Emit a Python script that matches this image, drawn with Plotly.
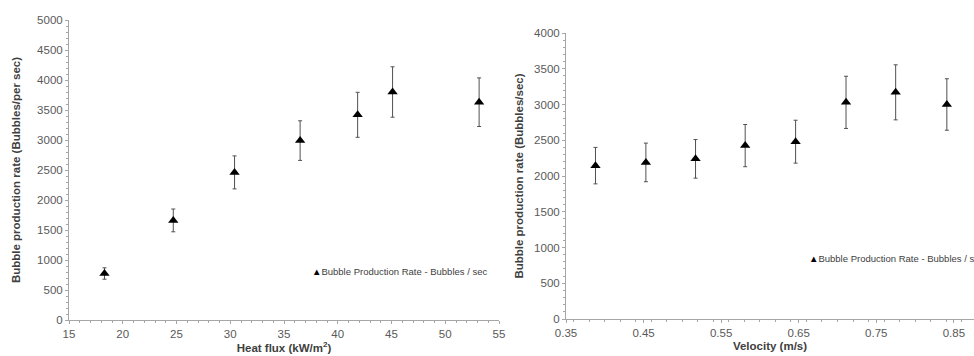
import plotly.graph_objects as go

# Left chart: bubble production rate vs heat flux
heat_flux = [18.3, 24.7, 30.4, 36.5, 41.85, 45.1, 53.15]
rate_hf = [775, 1660, 2460, 2990, 3420, 3800, 3630]
err_hf = [95, 190, 275, 330, 375, 420, 405]

# Right chart: bubble production rate vs velocity
velocity = [0.388, 0.453, 0.517, 0.581, 0.646, 0.711, 0.775, 0.841]
rate_v = [2145, 2190, 2240, 2425, 2480, 3030, 3170, 3000]
err_v = [255, 270, 270, 295, 300, 365, 385, 360]

legend_hf = "Bubble Production Rate - Bubbles / sec"
legend_v = "Bubble Production Rate - Bubbles / s"

FONT = "Liberation Sans, Arial, sans-serif"
TICKC = "#595959"
TITLEC = "#404040"
AXC = "#a6a6a6"
ERRC = "#505050"

fig = go.Figure()
fig.add_trace(go.Scatter(
    x=heat_flux, y=rate_hf, mode="markers", name=legend_hf,
    marker=dict(symbol="triangle-up", size=9, color="black"),
    error_y=dict(type="data", array=err_hf, visible=True, color=ERRC, thickness=1, width=2),
    xaxis="x", yaxis="y", showlegend=False))
fig.add_trace(go.Scatter(
    x=velocity, y=rate_v, mode="markers", name=legend_v,
    marker=dict(symbol="triangle-up", size=9, color="black"),
    error_y=dict(type="data", array=err_v, visible=True, color=ERRC, thickness=1, width=2),
    xaxis="x2", yaxis="y2", showlegend=False))

axis_common = dict(
    showgrid=False, zeroline=False, showline=True, linecolor=AXC, linewidth=1,
    ticks="outside", ticklen=3, tickcolor=AXC, tickwidth=1, automargin=False,
    tickfont=dict(family=FONT, size=11.5, color=TICKC),
    title_font=dict(family=FONT, size=11.5, color=TITLEC),
)

fig.update_layout(
    template="none",
    width=974, height=356,
    margin=dict(l=0, r=0, t=0, b=0, pad=0),
    paper_bgcolor="white", plot_bgcolor="white",
    font=dict(family=FONT, color=TICKC),
    xaxis=dict(domain=[69/974, 499/974], range=[15, 55], dtick=5, anchor="y",
               minor=dict(dtick=1, ticks="outside", ticklen=2, tickcolor=AXC),
               title=dict(text="<b>Heat flux (kW/m<sup>2</sup>)</b>", standoff=4),
               **axis_common),
    yaxis=dict(domain=[36/356, 336/356], range=[0, 5000], dtick=500, anchor="x",
               minor=dict(dtick=100, ticks="outside", ticklen=2, tickcolor=AXC),
               title=dict(text="<b>Bubble production rate (Bubbles/per sec)</b>", standoff=14),
               **axis_common),
    xaxis2=dict(domain=[566/974, 1.0], range=[0.35, 0.876], tick0=0.35, dtick=0.1,
                tickformat=".2f", anchor="y2",
                minor=dict(dtick=0.02, ticks="outside", ticklen=2, tickcolor=AXC),
                title=dict(text="<b>Velocity (m/s)</b>", standoff=4),
                **axis_common),
    yaxis2=dict(domain=[37/356, 323/356], range=[0, 4000], dtick=500, anchor="x2",
                minor=dict(dtick=100, ticks="outside", ticklen=2, tickcolor=AXC),
                title=dict(text="<b>Bubble production rate (Bubbles/sec)</b>", standoff=8),
                **axis_common),
    showlegend=False,
    annotations=[
        dict(xref="paper", yref="paper", x=310/974, y=1-271/356, xanchor="left", yanchor="middle",
             showarrow=False, text="<span style='color:black'>▲</span>" + legend_hf,
             font=dict(family=FONT, size=9.5, color=TITLEC)),
        dict(xref="paper", yref="paper", x=807/974, y=1-258/356, xanchor="left", yanchor="middle",
             showarrow=False, text="<span style='color:black'>▲</span>" + legend_v,
             font=dict(family=FONT, size=9.5, color=TITLEC)),
    ],
)

fig.write_html("out.html")
